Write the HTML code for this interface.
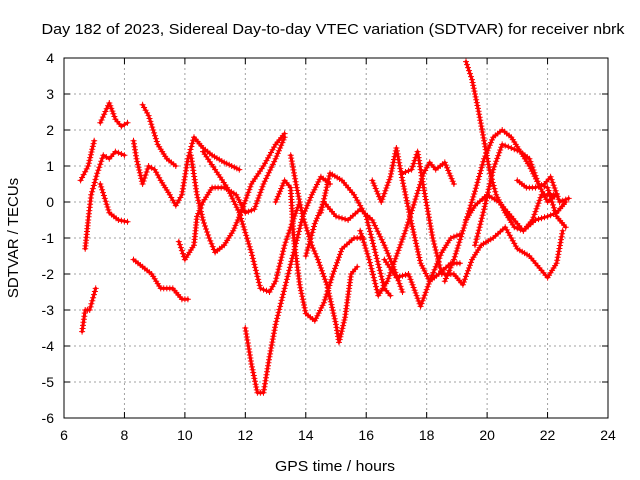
<!DOCTYPE html>
<html><head><meta charset="utf-8"><style>
body{margin:0;background:#fff;}
svg{display:block;font-family:"Liberation Sans",sans-serif;}
</style></head><body>
<svg id="chart" width="640" height="480" xmlns="http://www.w3.org/2000/svg">
<rect width="640" height="480" fill="#fff"/>
<text x="333" y="34" font-size="15" text-anchor="middle" textLength="583" lengthAdjust="spacingAndGlyphs">Day 182 of 2023, Sidereal Day-to-day VTEC variation (SDTVAR) for receiver nbrk</text>
<text x="335" y="471" font-size="15" text-anchor="middle" textLength="120" lengthAdjust="spacingAndGlyphs">GPS time / hours</text>
<text transform="translate(18,238) rotate(-90)" font-size="15" text-anchor="middle">SDTVAR / TECUs</text>
<g id="grid"></g><g id="ticks"></g><g id="series"></g>
<rect x="64" y="58" width="544" height="360" fill="none" stroke="#000" stroke-width="1"/>
</svg>
<script>
const xTicks=[6,8,10,12,14,16,18,20,22,24];
const yTicks=[4,3,2,1,0,-1,-2,-3,-4,-5,-6];
const traceA=[[6.55,0.6],[6.8,1.0],[7.0,1.7]];
const traceB=[[6.6,-3.6],[6.7,-3.0],[6.85,-3.0],[7.05,-2.4]];
const traceC=[[6.7,-1.3],[6.8,-0.5],[6.9,0.2],[7.1,0.8],[7.3,1.3],[7.5,1.2],[7.7,1.4],[8.0,1.3]];
const traceD=[[7.2,2.2],[7.5,2.75],[7.7,2.3],[7.9,2.1],[8.1,2.2]];
const traceE=[[7.2,0.5],[7.5,-0.3],[7.8,-0.5],[8.1,-0.55]];
const traceF=[[8.3,1.7],[8.4,1.2],[8.6,0.5],[8.8,1.0],[9.0,0.9],[9.2,0.6],[9.5,0.2],[9.7,-0.1],[9.9,0.2],[10.1,1.2],[10.3,1.8],[10.6,1.5],[10.9,1.3],[11.3,1.1],[11.8,0.9]];
const traceG=[[8.6,2.7],[8.8,2.4],[9.1,1.6],[9.4,1.2],[9.7,1.0]];
const traceH=[[8.3,-1.6],[8.6,-1.8],[8.9,-2.0],[9.2,-2.4],[9.6,-2.4],[9.9,-2.7],[10.1,-2.7]];
const traceI=[[9.8,-1.1],[10.0,-1.6],[10.3,-1.2],[10.4,-0.4],[10.6,0.0],[10.9,0.4],[11.3,0.4],[11.7,0.2],[12.0,-0.3],[12.3,-0.2],[12.6,0.5],[13.0,1.2],[13.3,1.8]];
const traceJ=[[10.2,1.3],[10.4,0.2],[10.6,-0.5],[10.8,-1.0],[11.0,-1.4],[11.3,-1.2],[11.6,-0.8],[11.9,-0.2],[12.2,0.5],[12.6,1.0],[13.0,1.6],[13.3,1.9]];
const traceK=[[10.6,1.4],[11.0,0.9],[11.4,0.4],[11.8,-0.3],[12.2,-1.4],[12.5,-2.4],[12.8,-2.5],[13.0,-2.2],[13.3,-1.2],[13.5,-0.7],[13.8,0.0]];
const traceL=[[12.0,-3.5],[12.2,-4.5],[12.4,-5.3],[12.6,-5.3],[12.8,-4.3],[13.0,-3.4],[13.3,-2.4],[13.6,-1.4],[13.9,-0.4],[14.2,0.2],[14.5,0.7],[14.8,0.5]];
const traceM=[[13.0,0.0],[13.3,0.6],[13.5,0.4],[13.6,-1.0],[13.8,-2.3],[14.0,-3.1],[14.3,-3.3],[14.6,-2.8],[14.9,-2.0],[15.2,-1.3],[15.6,-1.0],[15.9,-1.0]];
const traceN=[[13.5,1.3],[13.7,0.4],[13.9,-0.4],[14.2,-1.2],[14.4,-1.6],[14.7,-2.3],[15.0,-3.4],[15.1,-3.9],[15.3,-3.2],[15.5,-2.0],[15.7,-1.8]];
const traceO=[[14.0,-1.5],[14.3,-0.6],[14.6,0.0],[15.0,-0.4],[15.4,-0.5],[15.8,-0.2],[16.2,-0.5],[16.6,-1.2],[16.9,-1.8],[17.2,-2.5]];
const traceP=[[14.5,-0.3],[14.8,0.8],[15.2,0.6],[15.6,0.2],[16.0,-0.4],[16.3,-1.4],[16.6,-2.4],[16.8,-2.6]];
const traceQ=[[15.8,-0.8],[16.1,-1.6],[16.4,-2.6],[16.7,-2.2],[17.0,-1.5],[17.3,-0.8],[17.6,0.0],[17.9,0.8],[18.1,1.1],[18.3,0.9],[18.6,1.1],[18.9,0.5]];
const traceR=[[16.2,0.6],[16.5,0.0],[16.8,0.7],[17.0,1.5],[17.2,0.6],[17.5,-0.6],[17.8,-1.7],[18.1,-2.2],[18.4,-2.0],[18.8,-1.7],[19.1,-1.7]];
const traceS=[[17.2,0.8],[17.5,0.9],[17.7,1.4],[17.9,0.4],[18.2,-1.0],[18.5,-2.0],[18.9,-2.0],[19.2,-2.3],[19.5,-1.6],[19.8,-1.2],[20.2,-1.0],[20.6,-0.7],[21.0,-1.3],[21.4,-1.5],[21.8,-1.9],[22.0,-2.1],[22.3,-1.7],[22.5,-0.8]];
const traceT=[[16.6,-1.6],[17.0,-2.1],[17.4,-2.0],[17.8,-2.9],[18.1,-2.2],[18.5,-1.4],[18.8,-1.0],[19.1,-0.9]];
const traceU=[[19.3,3.9],[19.5,3.4],[19.7,2.6],[19.9,1.7],[20.1,0.8],[20.3,0.2],[20.6,-0.3],[20.9,-0.7],[21.2,-0.8],[21.5,-0.5],[21.8,0.2],[22.2,0.2]];
const traceV=[[18.6,-2.2],[18.9,-1.6],[19.2,-0.8],[19.6,0.3],[19.9,1.2],[20.2,1.8],[20.5,2.0],[20.8,1.8],[21.1,1.4],[21.4,1.2],[21.7,0.5],[22.0,0.0],[22.3,0.2]];
const traceW=[[19.3,-0.5],[19.6,-0.1],[20.0,0.2],[20.4,0.0],[20.8,-0.4],[21.2,-0.8],[21.6,-0.5],[22.0,-0.4],[22.3,-0.3],[22.6,0.0]];
const traceX=[[19.6,-1.2],[19.9,-0.2],[20.2,0.9],[20.5,1.6],[20.8,1.5],[21.1,1.4],[21.4,1.0],[21.7,0.5],[22.0,0.4],[22.3,-0.4],[22.6,-0.7]];
const traceY=[[21.0,0.6],[21.3,0.4],[21.6,0.4],[21.9,0.5],[22.1,0.7],[22.4,0.0],[22.7,0.1]];
const traces=[traceA,traceB,traceC,traceD,traceE,traceF,traceG,traceH,traceI,traceJ,traceK,traceL,traceM,traceN,traceO,traceP,traceQ,traceR,traceS,traceT,traceU,traceV,traceW,traceX,traceY];

const NS="http://www.w3.org/2000/svg";
const X0=64,X1=608,Y0=58,Y1=418;
function sx(h){return X0+(h-6)/(24-6)*(X1-X0);}
function sy(v){return Y0+(4-v)/10*(Y1-Y0);}
const grid=document.getElementById('grid'),ticks=document.getElementById('ticks'),series=document.getElementById('series');
function mk(tag,attrs,parent){const e=document.createElementNS(NS,tag);for(const k in attrs)e.setAttribute(k,attrs[k]);parent.appendChild(e);return e;}
xTicks.forEach(t=>{
  const x=sx(t);
  if(t>6&&t<24){const g=mk('line',{x1:x,x2:x,y1:Y0,y2:Y1,stroke:'#a0a0a0','stroke-dasharray':'2,3','stroke-width':1},grid);
  
  }
  mk('line',{x1:x,x2:x,y1:Y1,y2:Y1-6,stroke:'#000'},ticks);
  mk('line',{x1:x,x2:x,y1:Y0,y2:Y0+6,stroke:'#000'},ticks);
  const l=mk('text',{x:x,y:Y1+22,'font-size':14,'text-anchor':'middle'},ticks);l.textContent=t;
  
  
});
yTicks.forEach(t=>{
  const y=sy(t);
  if(t<4&&t>-6){const g=mk('line',{x1:X0,x2:X1,y1:y,y2:y,stroke:'#a0a0a0','stroke-dasharray':'2,3','stroke-width':1},grid);
  
  }
  mk('line',{x1:X0,x2:X0+6,y1:y,y2:y,stroke:'#000'},ticks);
  mk('line',{x1:X1,x2:X1-6,y1:y,y2:y,stroke:'#000'},ticks);
  const l=mk('text',{x:X0-10,y:y+5,'font-size':14,'text-anchor':'end'},ticks);l.textContent=t;
  
  
});
traces.forEach((tr,i)=>{
  const pts=tr.map(p=>sx(p[0]).toFixed(1)+','+sy(p[1]).toFixed(1)).join(' ');
  const pl=mk('polyline',{points:pts,fill:'none',stroke:'#f00','stroke-width':3,'stroke-linejoin':'round','stroke-linecap':'round'},series);
  
  
  let d='';
  for(let k=0;k<tr.length-1;k++){
    const xa=sx(tr[k][0]),ya=sy(tr[k][1]),xb=sx(tr[k+1][0]),yb=sy(tr[k+1][1]);
    const n=Math.max(1,Math.round(Math.hypot(xb-xa,yb-ya)/3));
    for(let j=0;j<=n;j++){const x=xa+(xb-xa)*j/n,y=ya+(yb-ya)*j/n;d+=`M${(x-3).toFixed(1)},${y.toFixed(1)}h6M${x.toFixed(1)},${(y-3).toFixed(1)}v6`;}
  }
  const m=mk('path',{d:d,stroke:'#f00','stroke-width':1,fill:'none'},series);
  
  
});
</script>
</body></html>
